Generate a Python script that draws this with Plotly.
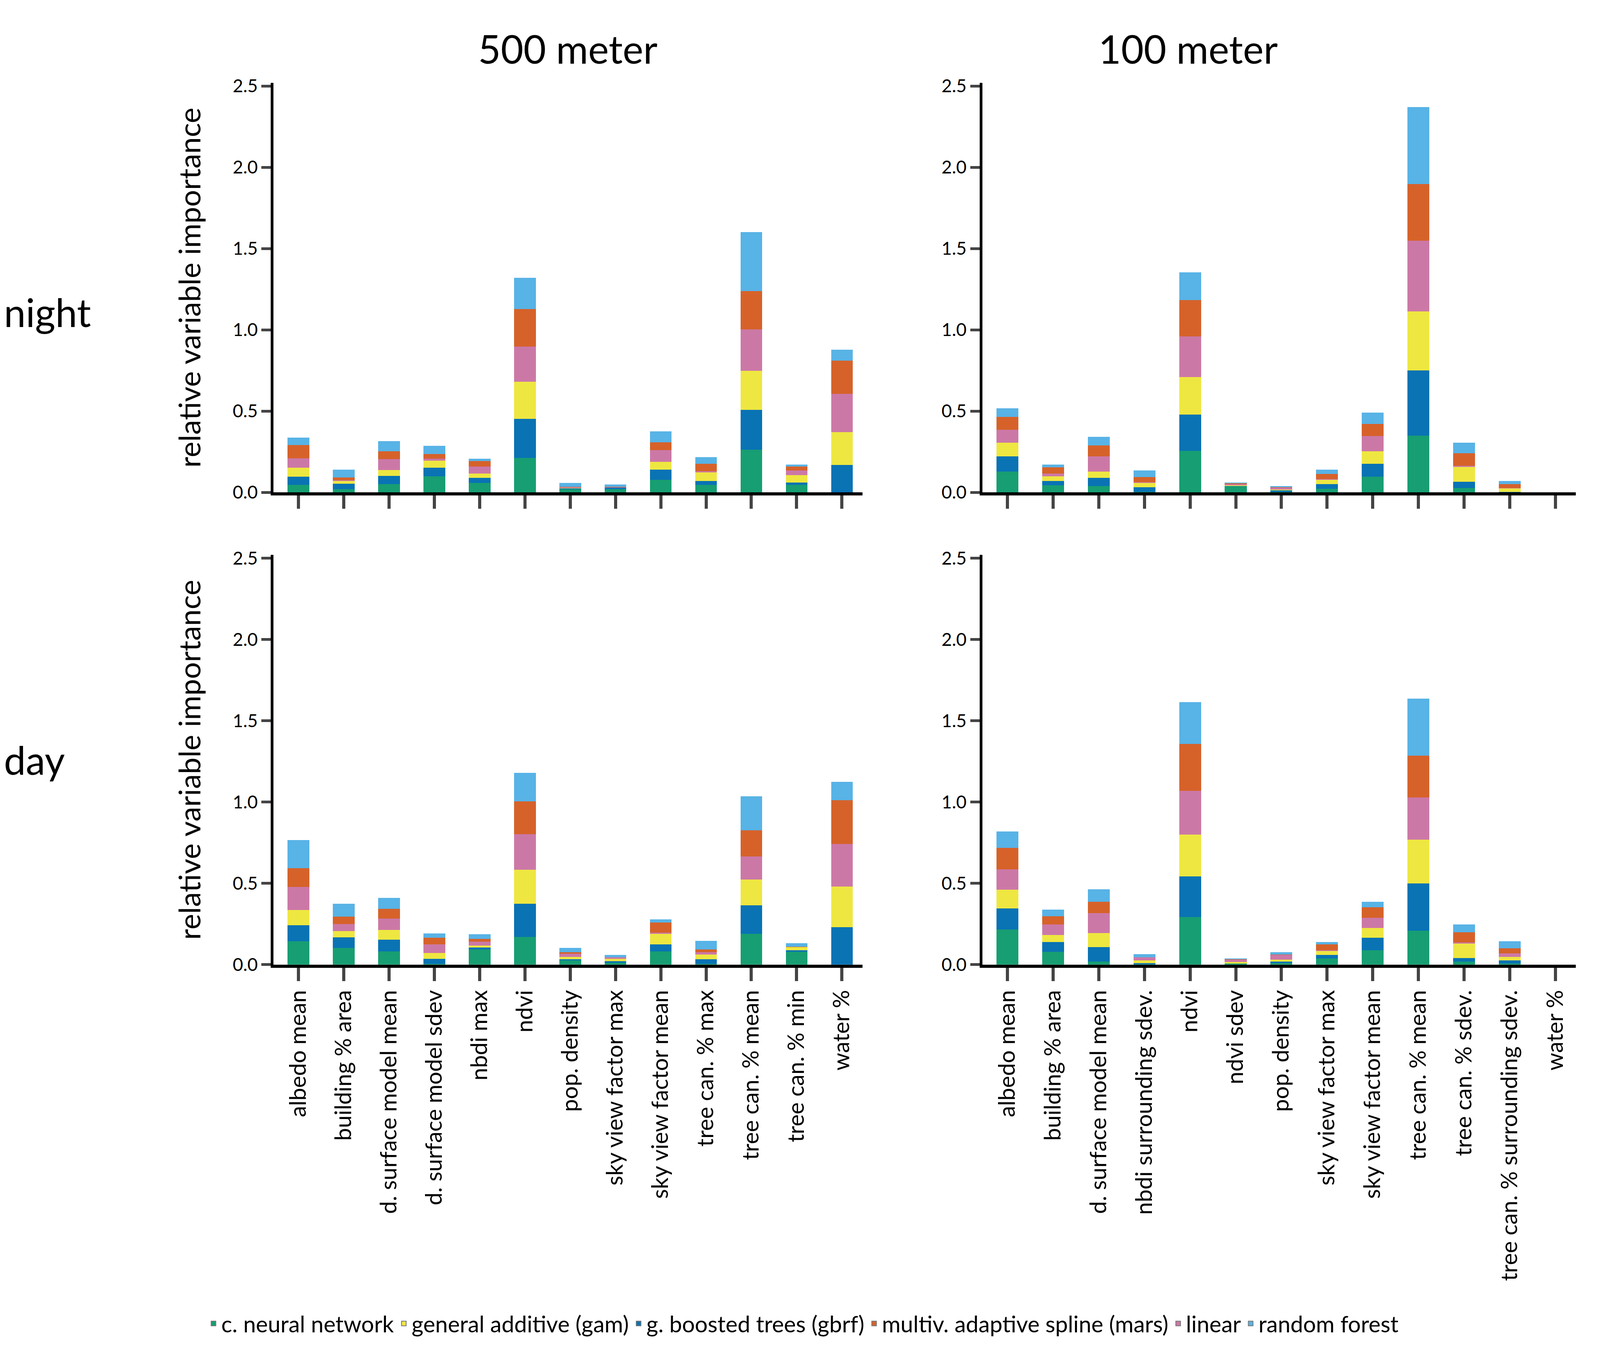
import plotly.graph_objects as go
from plotly.subplots import make_subplots

models = ["c. neural network", "g. boosted trees (gbrf)", "general additive (gam)",
          "linear", "multiv. adaptive spline (mars)", "random forest"]
colors = ["#179e72", "#0973b4", "#eee741", "#cc78a7", "#d6622a", "#58b3e6"]
legend_order = [0, 2, 1, 4, 3, 5]

vars_500 = ["albedo mean", "building % area", "d. surface model mean", "d. surface model sdev",
            "nbdi max", "ndvi", "pop. density", "sky view factor max", "sky view factor mean",
            "tree can. % max", "tree can. % mean", "tree can. % min", "water %"]
vars_100 = ["albedo mean", "building % area", "d. surface model mean", "nbdi surrounding sdev.",
            "ndvi", "ndvi sdev", "pop. density", "sky view factor max", "sky view factor mean",
            "tree can. % mean", "tree can. % sdev.", "tree can. % surrounding sdev.", "water %"]

# values per model (order of `models`), one per variable
night_500 = [
    [.046, .019, .051, .098, .058, .212, .019, .019, .077, .046, .263, .046, 0],
    [.050, .035, .050, .055, .031, .241, .005, .012, .062, .024, .244, .015, .170],
    [.056, .016, .036, .043, .028, .229, .005, .001, .049, .052, .241, .046, .200],
    [.058, .005, .067, .011, .042, .216, .004, .001, .073, .008, .254, .027, .236],
    [.082, .017, .048, .029, .034, .229, .001, .002, .047, .046, .237, .025, .205],
    [.045, .049, .064, .050, .015, .192, .024, .013, .067, .041, .363, .012, .066],
]
night_100 = [
    [.127, .043, .038, .003, .255, .038, .003, .022, .096, .349, .026, .002, 0],
    [.095, .028, .051, .030, .225, .002, .009, .028, .079, .401, .040, .002, 0],
    [.084, .028, .038, .027, .230, .005, .005, .029, .078, .364, .090, .022, 0],
    [.080, .017, .095, .003, .249, .008, .014, .004, .093, .434, .008, .002, 0],
    [.079, .038, .066, .031, .225, .002, .002, .030, .075, .349, .076, .022, 0],
    [.052, .018, .053, .042, .170, .005, .007, .028, .071, .474, .066, .021, 0],
]
day_500 = [
    [.143, .103, .082, .004, .092, .170, .025, .012, .082, .004, .189, .078, 0],
    [.099, .065, .071, .032, .014, .205, .008, .008, .042, .029, .175, .009, .230],
    [.093, .039, .060, .035, .010, .208, .014, .015, .065, .029, .160, .020, .251],
    [.143, .043, .069, .054, .025, .220, .020, .010, .007, .013, .140, .001, .262],
    [.116, .046, .060, .040, .018, .202, .009, .001, .062, .018, .161, .001, .267],
    [.171, .079, .068, .027, .028, .174, .027, .014, .021, .053, .209, .023, .114],
]
day_100 = [
    [.215, .078, .018, .002, .293, .006, .009, .037, .087, .208, .018, .006, 0],
    [.130, .060, .090, .007, .249, .001, .009, .022, .078, .290, .023, .020, 0],
    [.115, .043, .087, .017, .257, .008, .013, .026, .061, .270, .088, .021, 0],
    [.125, .066, .121, .019, .270, .016, .029, .004, .062, .261, .008, .021, 0],
    [.134, .051, .070, .001, .289, .001, .001, .036, .065, .257, .062, .031, 0],
    [.099, .040, .076, .019, .257, .006, .016, .014, .032, .351, .047, .045, 0],
]

font = "Lato"
fig = make_subplots(rows=2, cols=2)
panels = [(1, 1, vars_500, night_500), (1, 2, vars_100, night_100),
          (2, 1, vars_500, day_500), (2, 2, vars_100, day_100)]
for r, c, cats, data in panels:
    for i in range(6):
        fig.add_trace(go.Bar(x=list(range(len(cats))), y=data[i], name=models[i],
                             marker=dict(color=colors[i], line=dict(width=0)),
                             showlegend=False), row=r, col=c)

# legend entries (big boxes)
for k, i in enumerate(legend_order):
    fig.add_trace(go.Scatter(x=[None], y=[None], name=models[i], legendrank=k, mode="markers",
                             marker=dict(color=colors[i], symbol="square", size=48,
                                         line=dict(color="#777", width=3)),
                             showlegend=True), row=1, col=1)

xd = [[0.169, 0.537], [0.612, 0.983]]
yd = [[0.638, 0.946], [0.283, 0.591]]
for r, c, cats, data in panels:
    fig.update_xaxes(domain=xd[c - 1], range=[-0.55, 12.45], row=r, col=c,
                     tickvals=list(range(len(cats))),
                     ticktext=cats if r == 2 else [""] * len(cats),
                     tickangle=-90, ticks="outside", ticklen=34, tickwidth=8,
                     showline=True, linewidth=8, linecolor="black",
                     showgrid=False, zeroline=False,
                     tickfont=dict(size=58, family=font, color="black"))
    fig.update_yaxes(domain=yd[r - 1], range=[0, 2.52], row=r, col=c,
                     tickvals=[0, 0.5, 1, 1.5, 2, 2.5], tickformat=".1f",
                     ticks="outside", ticklen=24, tickwidth=7,
                     showline=True, linewidth=7, linecolor="black",
                     showgrid=False, zeroline=False,
                     title=dict(text="relative variable importance" if c == 1 else "",
                                font=dict(size=76, family=font, color="black"), standoff=60),
                     tickfont=dict(size=46, family=font, color="black"))

fig.update_layout(
    barmode="stack", bargap=0.52,
    plot_bgcolor="white", paper_bgcolor="white",
    margin=dict(l=0, r=0, t=0, b=0),
    font=dict(family=font, color="black"),
    legend=dict(orientation="h", x=0.5, xanchor="center", y=0.0, yanchor="bottom",
                font=dict(size=58, family=font), itemsizing="constant",
                traceorder="normal"),
    annotations=[
        dict(text="500 meter", x=0.353, y=0.99, xref="paper", yref="paper",
             showarrow=False, font=dict(size=100, family=font), yanchor="top"),
        dict(text="100 meter", x=0.797, y=0.99, xref="paper", yref="paper",
             showarrow=False, font=dict(size=100, family=font), yanchor="top"),
        dict(text="night", x=0.0, y=0.792, xref="paper", yref="paper", xanchor="left",
             showarrow=False, font=dict(size=100, family=font)),
        dict(text="day", x=0.0, y=0.437, xref="paper", yref="paper", xanchor="left",
             showarrow=False, font=dict(size=100, family=font)),
    ],
)
fig.write_html("out.html", default_width="100vw", default_height="100vh")
